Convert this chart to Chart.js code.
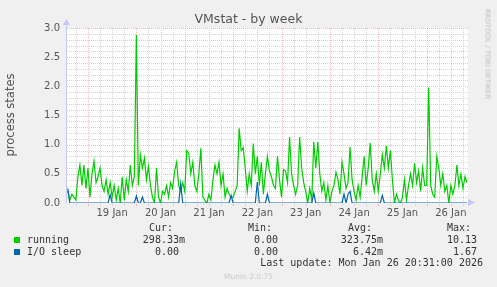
<!DOCTYPE html>
<html>
<head>
<meta charset="utf-8">
<script src="https://cdn.jsdelivr.net/npm/chart.js@4"></script>
<style>
  body { margin: 0; background: #f0f0f0; }
  #wrap { position: relative; width: 497px; height: 287px; overflow: hidden; background: #f0f0f0; }
  #wrap canvas { position: absolute; left: 0; top: 0; }
  .t { position: absolute; white-space: pre; font-family: "DejaVu Sans", sans-serif; }
  .m { position: absolute; white-space: pre; font-family: "DejaVu Sans Mono", monospace; font-size: 10px; line-height: 12px; color: #333; }
  .sw { position: absolute; width: 6px; height: 6px; }
</style>
</head>
<body>
<div id="wrap">
  <canvas id="myChart" width="497" height="287"></canvas>
  <div class="t" style="left:0;width:497px;top:11px;text-align:center;font-size:12.5px;color:#555;">VMstat - by week</div>
  <div class="t" style="left:-40px;top:108px;width:100px;text-align:center;font-size:11.5px;color:#555;transform:rotate(-90deg);">process states</div>
  <div class="t" style="left:440px;top:50px;width:95px;text-align:center;font-size:7px;color:#bbb;transform:rotate(90deg);">RRDTOOL / TOBI OETIKER</div>
  <div id="legend"></div>
  <div class="t" style="left:0;width:497px;top:272px;text-align:center;font-size:7.5px;color:#ccc;">Munin 2.0.75</div>
</div>
<script>
// hourly samples, hours counted from Jan 18 00:00
const firstHour = 14;
const jan18 = [0.2, 0.05, 0.15, 0.1, 0.05, 0.45, 0.65, 0.3, 0.65, 0.25];
const jan19 = [0.6, 0.1, 0.5, 0.72, 0.35, 0.45, 0.6, 0.3, 0.2, 0.4, 0.15, 0.35, 0.1, 0.3, 0.05, 0.25, 0.0, 0.45, 0.05, 0.4, 0.2, 0.65, 0.3, 0.45];
const jan20 = [2.88, 0.3, 0.82, 0.6, 0.77, 0.4, 0.63, 0.3, 0.1, 0.0, 0.6, 0.1, 0.0, 0.2, 0.15, 0.3, 0.1, 0.35, 0.25, 0.55, 0.7, 0.3, 0.2, 0.35];
const jan21 = [0.2, 0.9, 0.85, 0.5, 0.7, 0.3, 0.2, 0.5, 0.94, 0.1, 0.05, 0.0, 0.15, 0.05, 0.4, 0.65, 0.5, 0.7, 0.3, 0.5, 0.1, 0.25, 0.15, 0.1];
const jan22 = [0.1, 0.2, 0.3, 1.28, 0.9, 0.95, 0.6, 0.2, 0.5, 0.3, 1.02, 0.5, 0.8, 0.3, 0.7, 0.15, 0.5, 0.8, 0.55, 0.45, 0.3, 0.25, 0.8, 0.4];
const jan23 = [0.1, 0.57, 0.55, 0.35, 1.13, 0.5, 0.3, 0.15, 0.3, 1.13, 0.6, 0.35, 0.2, 0.0, 0.25, 0.05, 1.05, 0.6, 1.05, 0.5, 0.2, 0.35, 0.05, 0.3];
const jan24 = [0.0, 0.2, 0.3, 0.53, 0.4, 0.15, 0.7, 0.5, 0.25, 0.35, 0.96, 0.4, 0.2, 0.05, 0.3, 0.1, 0.45, 0.8, 0.3, 0.6, 1.03, 0.4, 0.2, 0.5];
const jan25 = [0.2, 0.5, 0.83, 0.6, 0.98, 0.6, 0.9, 0.4, 0.0, 0.15, 0.05, 0.0, 0.1, 0.4, 0.05, 0.3, 0.5, 0.3, 0.68, 0.35, 0.55, 0.2, 0.6, 0.3];
const jan26 = [0.3, 1.98, 0.3, 0.15, 0.1, 0.8, 0.6, 0.3, 0.5, 0.2, 0.3, 0.0, 0.3, 0.15, 0.3, 0.65, 0.3, 0.5, 0.25, 0.45, 0.35];

// I/O sleep is zero except for these hours
const ioHours  = [14, 35, 48, 51, 70, 95, 108, 113, 136, 151, 153, 154, 170];
const ioValues = [0.25, 0.14, 0.12, 0.1, 0.33, 0.13, 0.36, 0.15, 0.17, 0.15, 0.15, 0.2, 0.13];

// axis
const xMin = 13.6, xMax = 212.5;
const dayNoons  = [36, 60, 84, 108, 132, 156, 180, 204];
const dayLabels = ['19 Jan', '20 Jan', '21 Jan', '22 Jan', '23 Jan', '24 Jan', '25 Jan', '26 Jan'];

// legend
const seriesNames = ['running', 'I/O sleep'];
const seriesColors = ['#00cc00', '#0066b3'];
const curValues = ['298.33m', '0.00'];
const minValues = ['0.00', '0.00'];
const avgValues = ['323.75m', '6.42m'];
const maxValues = ['10.13', '1.67'];
const lastUpdate = 'Last update: Mon Jan 26 20:31:00 2026';

const running = [].concat(jan18, jan19, jan20, jan21, jan22, jan23, jan24, jan25, jan26);
const runningPts = running.map((v, i) => ({ x: firstHour + i, y: v }));
const ioPts = running.map((v, i) => {
    const h = firstHour + i;
    const k = ioHours.indexOf(h);
    return { x: h, y: k >= 0 ? ioValues[k] : 0 };
});

// legend html
const legend = document.getElementById('legend');
function addText(txt, left, right, top) {
    const d = document.createElement('div');
    d.className = 'm';
    d.textContent = txt;
    d.style.top = top + 'px';
    if (left != null) d.style.left = left + 'px';
    else d.style.right = (497 - right) + 'px';
    legend.appendChild(d);
}
addText('Cur:', 149, null, 222);
addText('Min:', 248, null, 222);
addText('Avg:', 348, null, 222);
addText('Max:', 447, null, 222);
seriesNames.forEach((name, i) => {
    const top = 234 + i * 12;
    const sw = document.createElement('div');
    sw.className = 'sw';
    sw.style.left = '14px';
    sw.style.top = (top + 3) + 'px';
    sw.style.background = seriesColors[i];
    legend.appendChild(sw);
    addText(name, 27, null, top);
    addText(curValues[i], null, curValues[i].endsWith('m') ? 185 : 179, top);
    addText(minValues[i], null, 278, top);
    addText(avgValues[i], null, 383, top);
    addText(maxValues[i], null, 477, top);
});
addText(lastUpdate, null, 483, 257);

// rrd style grid + axes
const rrdGrid = {
    id: 'rrdGrid',
    beforeDraw(chart) {
        const { ctx, chartArea: a } = chart;
        ctx.save();
        ctx.fillStyle = '#ffffff';
        ctx.fillRect(a.left, a.top, a.right - a.left, a.bottom - a.top);
        ctx.restore();
    },
    beforeDatasetsDraw(chart) {
        const { ctx, chartArea: a, scales } = chart;
        const xs = scales.x, ys = scales.y;
        const red = 'rgba(230,130,130,0.55)';
        ctx.save();
        ctx.lineWidth = 1;
        ctx.setLineDash([1, 1]);
        // horizontal
        for (let i = 1; i <= 30; i++) {
            const y = Math.round(ys.getPixelForValue(i / 10)) + 0.5;
            ctx.strokeStyle = i % 5 === 0 ? red : '#d4d4d4';
            ctx.beginPath();
            ctx.moveTo(a.left, y);
            ctx.lineTo(a.right, y);
            ctx.stroke();
        }
        // vertical, every 6 hours
        for (let h = 18; h < xMax; h += 6) {
            const x = Math.round(xs.getPixelForValue(h)) + 0.5;
            const major = h % 24 === 0;
            ctx.strokeStyle = major ? red : '#d4d4d4';
            ctx.beginPath();
            ctx.moveTo(x, a.top);
            ctx.lineTo(x, a.bottom);
            ctx.stroke();
            ctx.setLineDash([]);
            ctx.beginPath();
            ctx.moveTo(x, a.bottom + 1);
            ctx.lineTo(x, a.bottom + 3);
            ctx.stroke();
            ctx.setLineDash([1, 1]);
        }
        ctx.restore();
    },
    afterDatasetsDraw(chart) {
        const { ctx, chartArea: a } = chart;
        ctx.save();
        ctx.strokeStyle = '#c4c8f4';
        ctx.fillStyle = '#c4c8f4';
        ctx.lineWidth = 1;
        ctx.beginPath();
        ctx.moveTo(a.left - 0.5, a.bottom);
        ctx.lineTo(a.left - 0.5, a.top - 4);
        ctx.stroke();
        ctx.beginPath();
        ctx.moveTo(a.left - 4, a.top - 3);
        ctx.lineTo(a.left + 3, a.top - 3);
        ctx.lineTo(a.left - 0.5, a.top - 9);
        ctx.closePath();
        ctx.fill();
        ctx.beginPath();
        ctx.moveTo(a.right, a.bottom + 3);
        ctx.lineTo(a.right, a.bottom - 4);
        ctx.lineTo(a.right + 7, a.bottom - 0.5);
        ctx.closePath();
        ctx.fill();
        ctx.restore();
    }
};

const ctx = document.getElementById('myChart');
let myChart = new Chart(ctx, {
    type: 'line',
    data: {
        datasets: [{
            label: seriesNames[0],
            data: runningPts,
            borderColor: seriesColors[0],
            borderWidth: 1.2,
            pointRadius: 0,
            tension: 0,
            order: 2
        }, {
            label: seriesNames[1],
            data: ioPts,
            borderColor: seriesColors[1],
            borderWidth: 1.2,
            pointRadius: 0,
            tension: 0,
            order: 1
        }]
    },
    options: {
        responsive: false,
        animation: false,
        devicePixelRatio: 1,
        layout: { padding: { left: 0, top: 28, right: 29, bottom: 0 } },
        plugins: { legend: { display: false }, tooltip: { enabled: false }, title: { display: false } },
        scales: {
            x: {
                type: 'linear',
                min: xMin,
                max: xMax,
                grid: { display: false, drawTicks: false },
                border: { display: false },
                afterBuildTicks: s => { s.ticks = dayNoons.map(v => ({ value: v })); },
                afterFit: s => { s.height = 84; },
                ticks: {
                    autoSkip: false,
                    maxRotation: 0,
                    padding: 4,
                    color: '#555',
                    font: { family: 'DejaVu Sans', size: 10 },
                    callback: (v, i) => dayLabels[i]
                }
            },
            y: {
                min: 0,
                max: 3,
                grid: { display: false, drawTicks: false },
                border: { display: false },
                afterFit: s => { s.width = 67; },
                ticks: {
                    stepSize: 0.5,
                    padding: 7,
                    color: '#555',
                    font: { family: 'DejaVu Sans', size: 10 },
                    callback: v => v.toFixed(1)
                }
            }
        }
    },
    plugins: [rrdGrid]
});
</script>
</body>
</html>
